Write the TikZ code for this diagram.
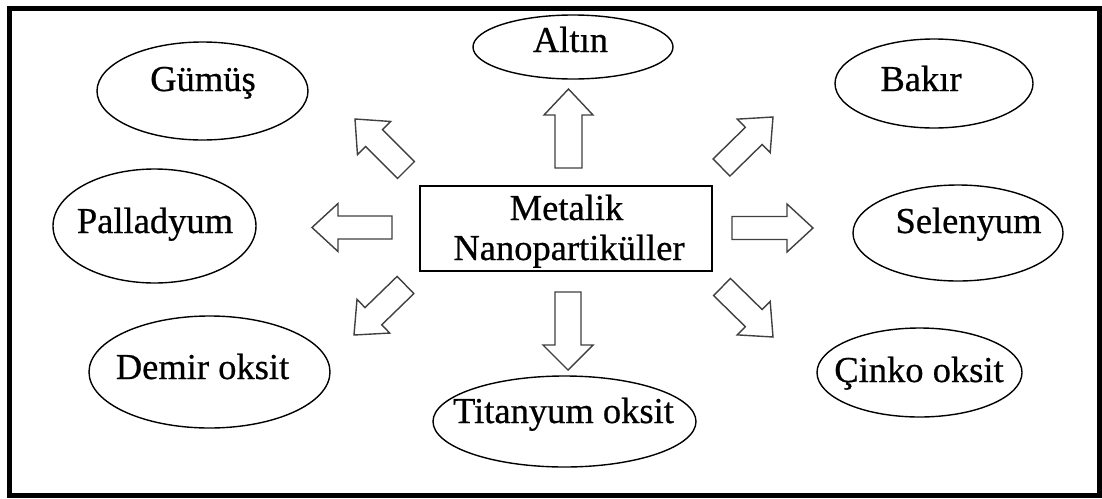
\documentclass[tikz,border=0pt]{standalone}
\usepackage{fontspec}
\setmainfont{Liberation Serif}
\newfontfamily\labelfont{Liberation Serif}[FakeBold=0.6]
\usetikzlibrary{calc,shapes.geometric}

\tikzset{
  ell/.style={ellipse, draw, line width=1.4pt, inner sep=0pt},
  lbl/.style={font=\labelfont\fontsize{36.5}{41}\selectfont, inner sep=0pt, anchor=base},
  blockarr/.style={draw=black!75, line width=1.4pt, line join=miter, fill=white},
  mainbox/.style={draw, line width=1.5pt, inner sep=0pt},
}

% hollow block arrow: tail, tip, shaft half-width, head half-width, head length
\newcommand\blockarrow[5]{%
  \coordinate (ba-h) at ($(#2)!#5!(#1)$);
  \draw[blockarr]
    ($(#1)!#3!90:(#2)$) -- ($(ba-h)!#3!90:(#2)$) -- ($(ba-h)!#4!90:(#2)$) --
    (#2) --
    ($(ba-h)!#4!-90:(#2)$) -- ($(ba-h)!#3!-90:(#2)$) -- ($(#1)!#3!-90:(#2)$) -- cycle;
}

\begin{document}
\begin{tikzpicture}[x=1pt, y=-1pt]
  \useasboundingbox (0,0) rectangle (1102,498);
  \fill[white] (0,0) rectangle (1102,498);

  % outer frame
  \draw[line width=5pt] (9.5,8.5) rectangle (1099.5,495.5);

  % central box with its two lines of text
  \node[mainbox, minimum width=292pt, minimum height=85pt] (center) at (566,228.5) {};
  \node[lbl] (center-t1) at (566.5,220) {Metalik};
  \node[lbl] (center-t2) at (569,260)   {Nanopartiküller};

  % surrounding ellipses
  \node[ell, minimum width=211pt, minimum height=98pt]  (gumus)   at (202.5,91)  {};
  \node[ell, minimum width=203pt, minimum height=114pt] (pallad)  at (154.5,226) {};
  \node[ell, minimum width=241pt, minimum height=112pt] (demir)   at (209.5,372) {};
  \node[ell, minimum width=200pt, minimum height=64pt]  (altin)   at (573,47)    {};
  \node[ell, minimum width=198pt, minimum height=89pt]  (bakir)   at (934,83.5)  {};
  \node[ell, minimum width=210pt, minimum height=96pt]  (selen)   at (958,233)   {};
  \node[ell, minimum width=205pt, minimum height=89pt]  (cinko)   at (919.5,372.5) {};
  \node[ell, minimum width=263pt, minimum height=91pt]  (titan)   at (564.5,421.5) {};

  % ellipse labels
  \node[lbl] (gumus-t)  at (203,91)    {Gümüş};
  \node[lbl] (pallad-t) at (155,233)   {Palladyum};
  \node[lbl] (demir-t)  at (202.5,379) {Demir oksit};
  \node[lbl] (altin-t)  at (570.5,52)  {Altın};
  \node[lbl] (bakir-t)  at (921,91)    {Bakır};
  \node[lbl] (selen-t)  at (968.5,233) {Selenyum};
  \node[lbl] (cinko-t)  at (919,382)   {Çinko oksit};
  \node[lbl] (titan-t)  at (563.5,423) {Titanyum oksit};

  % arrow ends
  \coordinate (up-a) at (568.5,168); \coordinate (up-b) at (568.5,89);
  \coordinate (dn-a) at (568,292);   \coordinate (dn-b) at (568,370);
  \coordinate (lf-a) at (392,227.5); \coordinate (lf-b) at (312,227.5);
  \coordinate (rt-a) at (732,228);   \coordinate (rt-b) at (813,228);
  \coordinate (ul-a) at (406,170);   \coordinate (ul-b) at (355,119);
  \coordinate (ur-a) at (721.5,167.5); \coordinate (ur-b) at (773,117);
  \coordinate (ll-a) at (405.5,285); \coordinate (ll-b) at (354,335);
  \coordinate (lr-a) at (722,287);   \coordinate (lr-b) at (773,337);

  % block arrows from the centre outwards
  \blockarrow{up-a}{up-b}{13.5pt}{24.5pt}{26pt}
  \blockarrow{dn-a}{dn-b}{13pt}{25pt}{25pt}
  \blockarrow{lf-a}{lf-b}{11.5pt}{24pt}{26pt}
  \blockarrow{rt-a}{rt-b}{11.5pt}{24pt}{26pt}
  \blockarrow{ul-a}{ul-b}{12pt}{23.5pt}{27pt}
  \blockarrow{ur-a}{ur-b}{12pt}{23.5pt}{27pt}
  \blockarrow{ll-a}{ll-b}{12pt}{23.5pt}{27pt}
  \blockarrow{lr-a}{lr-b}{12pt}{23.5pt}{27pt}
\end{tikzpicture}
\end{document}
